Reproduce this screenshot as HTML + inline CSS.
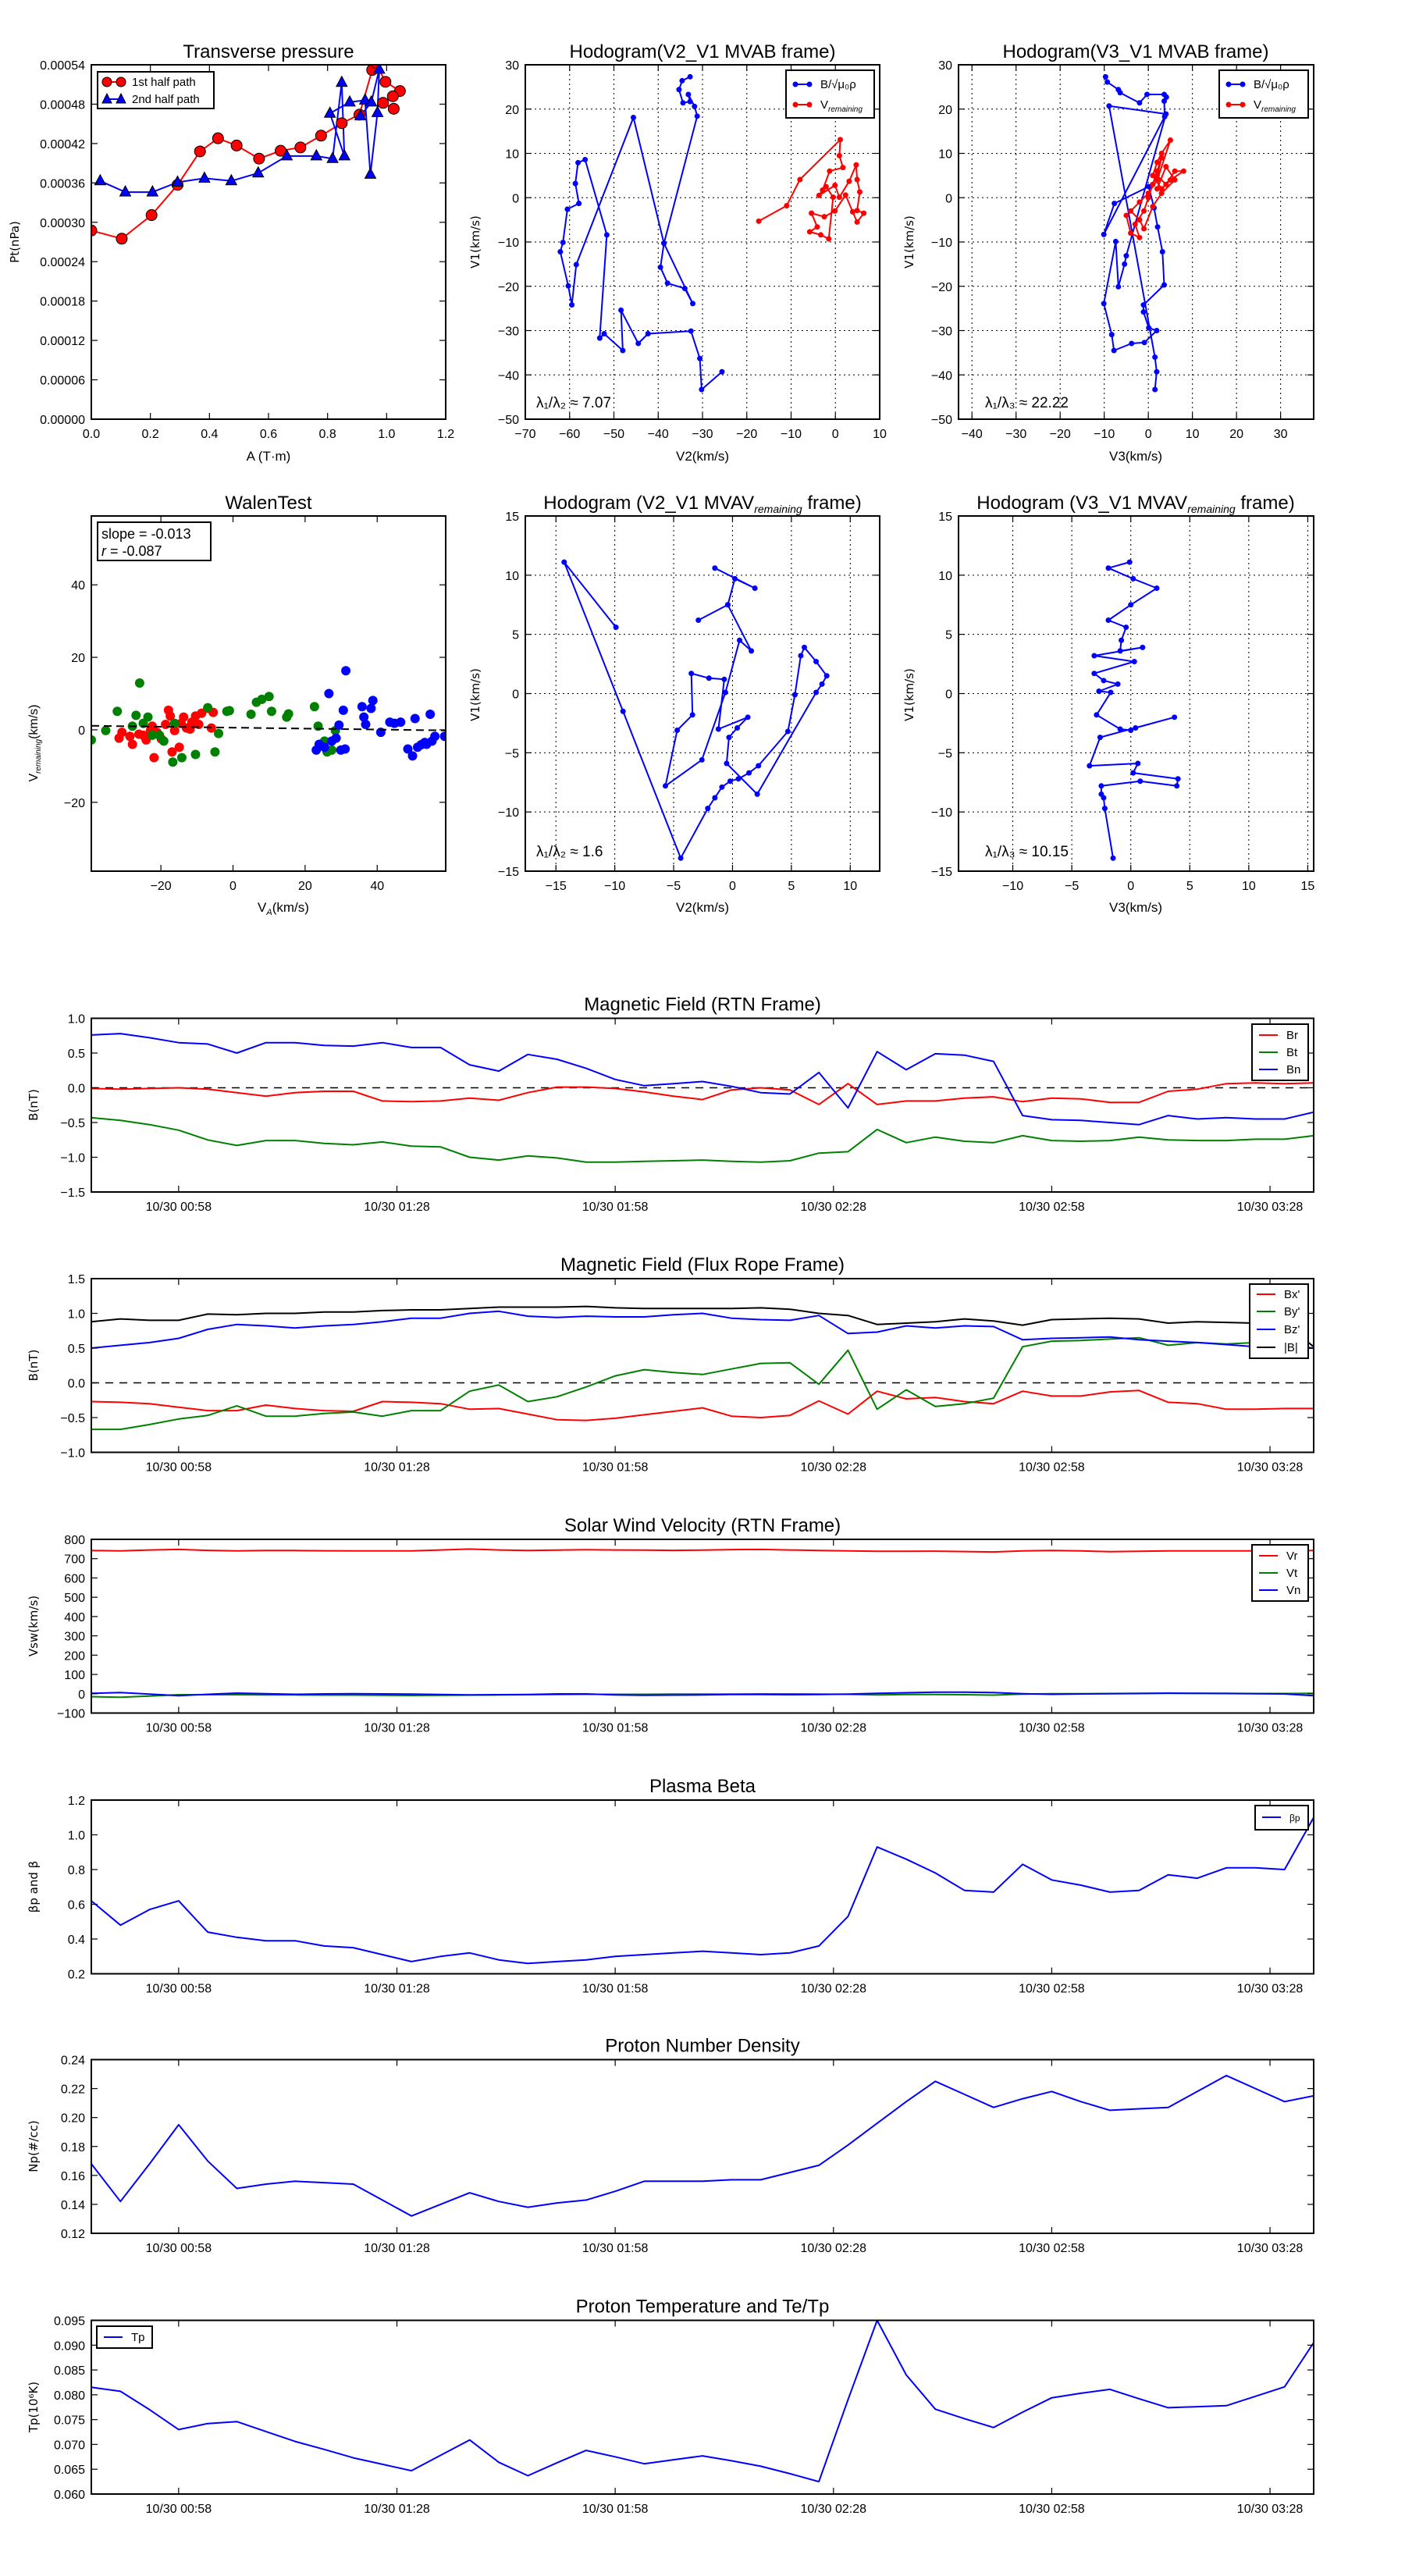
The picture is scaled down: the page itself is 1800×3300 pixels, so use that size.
<!DOCTYPE html>
<html><head><meta charset="utf-8"><style>
html,body{margin:0;padding:0;background:#fff;}
svg{display:block;font-family:"Liberation Sans",sans-serif;}
</style></head>
<body>
<svg id="fig" width="1800" height="3300" viewBox="0 0 1800 3300" xmlns="http://www.w3.org/2000/svg">
<rect x="0" y="0" width="1800" height="3300" fill="#fff"/>
<defs id="defs"></defs>
</svg>
<script>
// ---------- data ----------
const presA1=[0.0,0.103,0.204,0.292,0.368,0.429,0.492,0.568,0.641,0.708,0.778,0.848,0.908,0.951,0.963,0.996,1.045,1.021,0.988,1.024];
const presP1=[0.0002875,0.000275,0.000311,0.000357,0.000408,0.000428,0.000417,0.000397,0.000409,0.000414,0.000432,0.000451,0.000464,0.000532,0.000543,0.000514,0.0005,0.000492,0.000482,0.000473];
const presA2=[0.03,0.115,0.207,0.292,0.383,0.474,0.565,0.662,0.762,0.817,0.848,0.857,0.808,0.875,0.927,0.945,0.969,0.975,0.948,0.911];
const presP2=[0.000363,0.000346,0.000346,0.000361,0.000367,0.000363,0.000375,0.000401,0.000401,0.000397,0.000513,0.000401,0.000466,0.000483,0.000486,0.000373,0.000467,0.000533,0.000483,0.000462];

const h1bx=[-25.6,-30.2,-30.6,-32.6,-42.3,-44.5,-48.4,-48.0,-52.2,-53.2,-51.6,-56.5,-58.1,-58.7,-57.9,-60.5,-61.5,-62.1,-60.3,-59.5,-58.5,-45.6,-38.7,-39.5,-37.9,-34.0,-32.2,-38.7,-31.2,-31.8,-33.2,-32.8,-34.4,-35.3,-34.6,-32.8];
const h1by=[-39.3,-43.3,-36.3,-30.1,-30.7,-32.9,-25.4,-34.5,-30.7,-31.7,-8.4,8.6,7.9,3.2,-1.3,-2.6,-10.1,-12.2,-19.9,-24.2,-15.1,18.1,-10.3,-15.7,-19.3,-20.5,-23.9,-10.3,18.4,20.6,23.3,21.7,21.4,24.4,26.4,27.3];
const h1rx=[-17.3,-11.0,-8.0,1.1,0.9,1.7,-1.3,-2.9,-3.7,-0.1,0.9,3.1,4.7,4.9,5.5,4.9,6.4,4.9,3.9,2.3,-0.1,-2.5,-5.4,-4.1,-5.8,-3.3,-1.5,-0.5,-2.1];
const h1ry=[-5.3,-1.8,4.1,13.1,9.5,6.8,6.0,1.7,0.5,2.8,0.1,3.7,7.4,4.1,1.3,-2.9,-3.5,-5.5,-3.2,0.6,-3.0,-4.3,-3.5,-6.6,-7.7,-8.4,-9.3,0.1,2.5];

const h2bx=[-9.7,-9.3,-6.8,-6.4,-2.0,-0.3,3.6,4.1,3.6,3.7,-10.1,-7.7,0.1,1.3,2.1,3.2,3.6,-1.1,-1.1,0.1,1.9,-0.9,-3.8,-7.8,-8.3,-10.1,-7.4,-6.8,-5.4,-5.0,4.0,-8.9,1.5,1.9,1.5];
const h2by=[27.3,26.1,24.4,23.7,21.4,23.3,23.3,22.7,21.8,18.3,-8.3,-1.3,2.5,-2.3,-6.6,-12.2,-19.7,-24.2,-25.8,-29.4,-30.0,-32.7,-32.9,-34.5,-30.9,-23.9,-9.9,-20.1,-15.0,-13.1,18.9,20.7,-36.0,-39.3,-43.3];
const h2rx=[-5,-4,-2,-3,-1,0,1,2,3,2,4,6,8,5,3,1,2,3,5,2,0,-2,-4,-2,-1,1,3,6,4,2];
const h2ry=[-4,-8,-9,-6,-3,0,3,6,9,5,3,6,6,4,2,5,8,10,13,4,1,-1,-3,-5,-7,-2,1,4,7,2];

const walRx=[-30.8,-31.6,-28.6,-27.9,-26.1,-24.9,-24.1,-22.9,-22.4,-21.1,-21.9,-19.9,-18.7,-17.9,-17.4,-16.9,-16.2,-14.9,-14.4,-13.7,-12.9,-11.9,-11.4,-10.4,-9.5,-8.7,-7.0,-6.0,-5.5];
const walRy=[-0.7,-2.3,-1.8,-4.0,-1.2,-1.5,-2.8,-0.2,1.0,-0.7,-7.7,-2.5,1.5,5.4,3.8,-6.1,-0.2,-4.8,1.8,3.5,0.5,0.2,2.1,3.8,1.5,4.6,5.9,0.5,4.8];
const walGx=[-39.3,-35.3,-32.1,-27.9,-26.9,-25.9,-24.9,-23.6,-22.4,-19.2,-16.7,-14.2,-10.4,-7.0,-5.0,-4.0,-1.7,-1.0,5.0,6.5,8.0,10.0,10.7,14.9,15.4,22.6,23.6,25.4,26.1,27.4,28.4,-20.4,-16.2];
const walGy=[-2.8,-0.2,5.1,1.0,4.0,12.9,1.8,3.5,-1.5,-3.1,-8.9,-7.7,-6.8,6.1,-6.1,-1.0,5.1,5.3,4.3,7.6,8.4,9.2,5.1,3.5,4.4,6.4,1.0,-3.1,-6.1,-5.6,-0.2,-1.5,1.8];
const walBx=[23.1,23.9,25.4,26.6,27.4,28.6,29.9,30.6,31.1,31.3,29.4,35.8,36.3,36.8,38.3,38.8,41.0,43.5,44.8,46.5,48.5,49.8,50.5,51.2,52.2,53.2,54.7,55.2,56.0,53.7,58.7];
const walBy=[-5.6,-4.0,-4.8,10.0,-3.1,-2.3,-5.6,5.4,-5.3,16.3,1.3,6.4,3.5,1.5,5.9,8.1,-0.7,2.1,1.8,2.1,-5.3,-7.2,3.1,-4.8,-4.1,-3.5,4.3,-3.1,-1.8,-4.0,-1.8];
const walSlope=-0.013, walIntercept=0.6;

const h3x=[-9.9,-14.3,-9.3,-4.4,-2.1,-1.5,-0.9,-0.2,0.5,1.4,2.2,4.7,5.3,5.8,6.1,7.1,8.0,7.6,7.1,2.1,-0.5,-0.3,0.4,1.3,-1.2,-0.7,-2.0,-3.5,-3.4,-4.7,-5.7,-2.6,-0.6,0.6,1.6,-0.4,-2.9,-0.4,0.2,1.9,-1.5];
const h3y=[5.6,11.1,-1.5,-13.9,-9.7,-8.8,-7.9,-7.4,-7.2,-6.7,-6.1,-3.2,-0.1,3.2,3.9,2.7,1.5,0.8,0.1,-8.5,-5.9,-3.7,-2.9,-2.0,-3.0,1.2,1.3,1.7,-1.8,-3.1,-7.8,-5.6,0.1,4.5,3.6,7.5,6.2,7.5,9.7,8.9,10.6];
const h4x=[-1.5,-2.2,-2.3,-2.5,-2.5,0.8,3.9,4.0,0.2,0.6,-3.5,-2.6,3.7,0.4,0.0,-0.9,-2.9,-1.7,-2.7,-1.1,-2.3,-3.1,0.3,-3.1,1.0,-0.9,-0.8,-0.4,-1.9,0.0,2.2,0.2,-1.9,-0.1];
const h4y=[-13.9,-9.7,-8.8,-8.5,-7.8,-7.4,-7.8,-7.2,-6.7,-5.9,-6.1,-3.7,-2.0,-2.9,-3.1,-3.0,-1.8,0.1,0.2,0.8,1.1,1.7,2.7,3.2,3.9,3.6,4.5,5.6,6.2,7.5,8.9,9.7,10.6,11.1];

const tStart=46, tStep=4;
const timeTicks=[58,88,118,148,178,208];
const rtnBr=[-0.01,-0.02,-0.01,0.0,-0.02,-0.07,-0.12,-0.07,-0.05,-0.05,-0.19,-0.2,-0.19,-0.15,-0.18,-0.07,0.01,0.01,-0.01,-0.06,-0.12,-0.17,-0.03,0.0,-0.03,-0.24,0.06,-0.24,-0.19,-0.19,-0.15,-0.13,-0.2,-0.15,-0.16,-0.21,-0.21,-0.05,-0.02,0.06,0.07,0.06,0.07];
const rtnBt=[-0.43,-0.47,-0.53,-0.61,-0.75,-0.83,-0.76,-0.76,-0.8,-0.82,-0.78,-0.84,-0.85,-1.0,-1.04,-0.98,-1.01,-1.07,-1.07,-1.06,-1.05,-1.04,-1.06,-1.07,-1.05,-0.94,-0.92,-0.6,-0.79,-0.71,-0.77,-0.79,-0.69,-0.76,-0.77,-0.76,-0.71,-0.75,-0.76,-0.76,-0.74,-0.74,-0.69];
const rtnBn=[0.76,0.78,0.72,0.65,0.63,0.5,0.65,0.65,0.61,0.6,0.65,0.58,0.58,0.33,0.24,0.48,0.41,0.28,0.12,0.03,0.06,0.09,0.02,-0.07,-0.09,0.22,-0.29,0.52,0.26,0.49,0.47,0.38,-0.4,-0.46,-0.47,-0.5,-0.53,-0.4,-0.45,-0.43,-0.45,-0.45,-0.35];
const frBx=[-0.27,-0.28,-0.3,-0.35,-0.4,-0.4,-0.32,-0.37,-0.4,-0.41,-0.27,-0.28,-0.3,-0.38,-0.37,-0.45,-0.53,-0.54,-0.51,-0.46,-0.41,-0.36,-0.48,-0.5,-0.47,-0.26,-0.45,-0.12,-0.23,-0.21,-0.27,-0.3,-0.12,-0.19,-0.19,-0.13,-0.11,-0.28,-0.3,-0.38,-0.38,-0.37,-0.37];
const frBy=[-0.67,-0.67,-0.6,-0.52,-0.47,-0.33,-0.48,-0.48,-0.44,-0.42,-0.48,-0.4,-0.4,-0.12,-0.03,-0.27,-0.2,-0.06,0.1,0.19,0.15,0.12,0.2,0.28,0.29,-0.02,0.47,-0.38,-0.1,-0.34,-0.3,-0.22,0.52,0.6,0.61,0.63,0.65,0.54,0.58,0.56,0.58,0.56,0.5];
const frBz=[0.5,0.54,0.58,0.64,0.77,0.84,0.82,0.79,0.82,0.84,0.88,0.93,0.93,1.0,1.03,0.96,0.94,0.96,0.95,0.95,0.98,1.0,0.93,0.91,0.9,0.97,0.71,0.73,0.82,0.79,0.82,0.81,0.62,0.64,0.65,0.66,0.62,0.6,0.58,0.55,0.52,0.5,0.5];
const frBm=[0.88,0.92,0.9,0.9,0.99,0.98,1.0,1.0,1.02,1.02,1.04,1.05,1.05,1.07,1.09,1.09,1.09,1.1,1.08,1.07,1.07,1.07,1.07,1.08,1.06,1.0,0.97,0.84,0.86,0.88,0.92,0.89,0.83,0.91,0.92,0.93,0.92,0.86,0.88,0.87,0.86,0.85,0.52];
const vr=[742,740,745,748,743,740,742,742,741,740,740,740,745,750,745,742,744,746,745,744,743,744,747,748,745,742,740,738,738,739,737,735,740,742,740,736,738,740,740,740,740,740,742];
const vt=[-15,-18,-12,-5,-5,-5,-6,-6,-7,-7,-8,-9,-8,-7,-6,-5,-4,-3,-3,-3,-2,-2,-2,-1,-1,-2,-3,-6,-4,-4,-5,-7,-2,0,0,1,2,2,2,2,1,1,2];
const vn=[2,6,-2,-10,-3,3,0,-3,-1,0,-1,-2,-4,-6,-5,-4,-1,-1,-6,-8,-7,-6,-4,-4,-5,-4,-2,2,5,8,8,6,0,-3,-1,0,1,3,2,1,0,-1,-10];
const beta=[0.62,0.48,0.57,0.62,0.44,0.41,0.39,0.39,0.36,0.35,0.31,0.27,0.30,0.32,0.28,0.26,0.27,0.28,0.30,0.31,0.32,0.33,0.32,0.31,0.32,0.36,0.53,0.93,0.86,0.78,0.68,0.67,0.83,0.74,0.71,0.67,0.68,0.77,0.75,0.81,0.81,0.80,1.10];
const np=[0.168,0.142,0.168,0.195,0.170,0.151,0.154,0.156,0.155,0.154,0.143,0.132,0.140,0.148,0.142,0.138,0.141,0.143,0.149,0.156,0.156,0.156,0.157,0.157,0.162,0.167,0.181,0.196,0.211,0.225,0.216,0.207,0.213,0.218,0.211,0.205,0.206,0.207,0.218,0.229,0.220,0.211,0.215];
const tp=[0.0815,0.0807,0.077,0.073,0.0742,0.0746,0.0726,0.0706,0.069,0.0673,0.066,0.0647,0.0678,0.0709,0.0664,0.0637,0.0663,0.0688,0.0675,0.0661,0.0669,0.0677,0.0667,0.0656,0.0641,0.0625,0.079,0.095,0.084,0.0771,0.0752,0.0734,0.0765,0.0794,0.0803,0.0811,0.0792,0.0774,0.0776,0.0778,0.0797,0.0816,0.0905];

// ---------- helpers ----------
const NS='http://www.w3.org/2000/svg';
const svg=document.getElementById('fig');
const defs=document.getElementById('defs');
let clipN=0;
function mk(tag,attrs,parent,name){
  const el=document.createElementNS(NS,tag);
  for(const k in attrs) el.setAttribute(k,attrs[k]);
  
  
  (parent||svg).appendChild(el);
  return el;
}
function txt(s,x,y,o,name,parent){
  const t=mk('text',Object.assign({x:x,y:y,'font-size':16,fill:'#000'},o||{}),parent,name);
  t.textContent=s; return t;
}
function sub(t,s,size,dy,italic){
  const e=document.createElementNS(NS,'tspan');
  e.setAttribute('font-size',size);
  if(italic) e.setAttribute('font-style','italic');
  e.setAttribute('dy',dy);
  e.textContent=s; t.appendChild(e); return e;
}
function fmtNum(v,d){const s=Math.abs(v).toFixed(d);return (v<-1e-12?'\u2212':'')+s;}
function axes(c){
  const sx=v=>c.L+(v-c.xmin)/(c.xmax-c.xmin)*(c.R-c.L);
  const sy=v=>c.B-(v-c.ymin)/(c.ymax-c.ymin)*(c.B-c.T);
  const id='clip'+(++clipN);
  const cp=mk('clipPath',{id:id},defs,'clip-path');
  mk('rect',{x:c.L,y:c.T,width:c.R-c.L,height:c.B-c.T},cp,'clip-rect');
  const grp=mk('g',{},null,c.name);
  if(c.grid){
    c.xt.forEach(v=>mk('line',{x1:sx(v),x2:sx(v),y1:c.T,y2:c.B,stroke:'#000','stroke-width':1,'stroke-dasharray':'2,4'},grp,'grid-line-x'));
    c.yt.forEach(v=>mk('line',{x1:c.L,x2:c.R,y1:sy(v),y2:sy(v),stroke:'#000','stroke-width':1,'stroke-dasharray':'2,4'},grp,'grid-line-y'));
  }
  const g=mk('g',{'clip-path':'url(#'+id+')'},grp,c.name+'-plot-area');
  c.xt.forEach(v=>{
    const x=sx(v);
    mk('line',{x1:x,x2:x,y1:c.B,y2:c.B-8,stroke:'#000','stroke-width':1.2},grp,'x-tick');
    mk('line',{x1:x,x2:x,y1:c.T,y2:c.T+8,stroke:'#000','stroke-width':1.2},grp,'x-tick');
    txt(c.xfmt(v),x,c.B+24,{'text-anchor':'middle'},'x-tick-label',grp);
  });
  c.yt.forEach(v=>{
    const y=sy(v);
    mk('line',{x1:c.L,x2:c.L+8,y1:y,y2:y,stroke:'#000','stroke-width':1.2},grp,'y-tick');
    mk('line',{x1:c.R,x2:c.R-8,y1:y,y2:y,stroke:'#000','stroke-width':1.2},grp,'y-tick');
    txt(c.yfmt(v),c.L-8,y+6,{'text-anchor':'end'},'y-tick-label',grp);
  });
  return {sx,sy,g,grp,frame:()=>mk('rect',{x:c.L,y:c.T,width:c.R-c.L,height:c.B-c.T,fill:'none',stroke:'#000','stroke-width':2},grp,'axes-frame')};
}
function range(a,b,s){const r=[];for(let v=a;v<=b+s*1e-6;v+=s)r.push(Math.round(v/s)*s);return r;}
function poly(a,xs,ys,color,name,w){
  const pts=xs.map((x,i)=>a.sx(x).toFixed(1)+','+a.sy(ys[i]).toFixed(1)).join(' ');
  return mk('polyline',{points:pts,fill:'none',stroke:color,'stroke-width':w||2,'stroke-linejoin':'round'},a.g,name);
}
function dots(a,xs,ys,color,r,name,edge){
  xs.forEach((x,i)=>{
    mk('circle',{cx:a.sx(x),cy:a.sy(ys[i]),r:r,fill:color,stroke:edge||'none','stroke-width':1},a.g,name);
  });
}
function tris(a,xs,ys,color,name){
  xs.forEach((x,i)=>{
    const X=a.sx(x),Y=a.sy(ys[i]);
    mk('polygon',{points:`${X},${Y-8} ${X-7},${Y+5} ${X+7},${Y+5}`,fill:color,stroke:'#000','stroke-width':1},a.g,name);
  });
}
function ylabel(s,x,y,name,size){
  return txt(s,x,y,{'text-anchor':'middle','font-family':'DejaVu Sans, sans-serif','font-size':size||15,transform:`rotate(-90 ${x} ${y})`},name);
}
function title(s,x,y,name){return txt(s,x,y,{'text-anchor':'middle','font-size':24},name);}
function legendBox(x,y,w,h,entries,name){
  const g=mk('g',{},null,name);
  mk('rect',{x:x,y:y,width:w,height:h,fill:'#fff',stroke:'#000','stroke-width':2},g,'legend-frame');
  entries.forEach((e)=>{
    const yy=y+e.dy;
    mk('line',{x1:x+9,x2:x+33,y1:yy,y2:yy,stroke:e.c,'stroke-width':2},g,'legend-line');
    if(e.m==='o'){mk('circle',{cx:x+12,cy:yy,r:e.r||6,fill:e.c,stroke:e.edge||'none'},g,'legend-marker');mk('circle',{cx:x+30,cy:yy,r:e.r||6,fill:e.c,stroke:e.edge||'none'},g,'legend-marker');}
    if(e.m==='^'){[x+12,x+30].forEach(X=>mk('polygon',{points:`${X},${yy-7} ${X-6},${yy+5} ${X+6},${yy+5}`,fill:e.c,stroke:'#000'},g,'legend-marker'));}
    const t=txt(e.t,x+44,yy+5,{'font-size':e.fs||15},'legend-label',g);
    if(e.sub) sub(t,e.sub,10,4,true);
  });
  return g;
}

// ---------- Row 1 ----------
(function(){
  const a=axes({name:'transverse-pressure-axes',L:117,R:571,T:83,B:537,xmin:0,xmax:1.2,ymin:0,ymax:0.00054,
    xt:range(0,1.2,0.2),yt:range(0,0.00054,0.00006),xfmt:v=>v.toFixed(1),yfmt:v=>v.toFixed(5)});
  poly(a,presA1,presP1,'#f00','first-half-line');
  poly(a,presA2,presP2,'#00f','second-half-line');
  dots(a,presA1,presP1,'#f00',7,'first-half-marker','#000');
  tris(a,presA2,presP2,'#00f','second-half-marker');
  a.frame();
  title('Transverse pressure',344,74,'transverse-pressure-title');
  txt('A (T\u00b7m)',344,590,{'text-anchor':'middle','font-size':17},'x-axis-title');
  ylabel('Pt(nPa)',24,310,'y-axis-title');
  legendBox(125,92,149,47,[{t:'1st half path',c:'#f00',m:'o',dy:13,r:6,edge:'#000'},{t:'2nd half path',c:'#00f',m:'^',dy:35}],'pressure-legend');
})();
(function(){
  const a=axes({name:'hodogram-v2v1-mvab-axes',L:673,R:1127,T:83,B:537,xmin:-70,xmax:10,ymin:-50,ymax:30,grid:true,
    xt:range(-70,10,10),yt:range(-50,30,10),xfmt:v=>fmtNum(v,0),yfmt:v=>fmtNum(v,0)});
  poly(a,h1bx,h1by,'#00f','b-alfven-path');
  dots(a,h1bx,h1by,'#00f',3.5,'b-alfven-point');
  poly(a,h1rx,h1ry,'#f00','v-remaining-path');
  dots(a,h1rx,h1ry,'#f00',3.5,'v-remaining-point');
  a.frame();
  title('Hodogram(V2_V1 MVAB frame)',900,74,'hodogram-v2v1-mvab-title');
  txt('V2(km/s)',900,590,{'text-anchor':'middle','font-size':17},'x-axis-title');
  ylabel('V1(km/s)',614,310,'y-axis-title');
  txt('\u03bb\u2081/\u03bb\u2082 \u2248 7.07',687,522,{'font-size':19},'eigenvalue-ratio-label');
  legendBox(1007,90,113,61,[{t:'B/\u221a\u03bc\u2080\u03c1',c:'#00f',m:'o',r:3.5,dy:18},{t:'V',sub:'remaining',c:'#f00',m:'o',r:3.5,dy:44}],'hodogram-v2v1-legend');
})();
(function(){
  const a=axes({name:'hodogram-v3v1-mvab-axes',L:1228,R:1683,T:83,B:537,xmin:-43.05,xmax:37.5,ymin:-50,ymax:30,grid:true,
    xt:range(-40,30,10),yt:range(-50,30,10),xfmt:v=>fmtNum(v,0),yfmt:v=>fmtNum(v,0)});
  poly(a,h2bx,h2by,'#00f','b-alfven-path');
  dots(a,h2bx,h2by,'#00f',3.5,'b-alfven-point');
  poly(a,h2rx,h2ry,'#f00','v-remaining-path');
  dots(a,h2rx,h2ry,'#f00',3.5,'v-remaining-point');
  a.frame();
  title('Hodogram(V3_V1 MVAB frame)',1455,74,'hodogram-v3v1-mvab-title');
  txt('V3(km/s)',1455,590,{'text-anchor':'middle','font-size':17},'x-axis-title');
  ylabel('V1(km/s)',1170,310,'y-axis-title');
  txt('\u03bb\u2081/\u03bb\u2083 \u2248 22.22',1262,522,{'font-size':19},'eigenvalue-ratio-label');
  legendBox(1562,90,114,61,[{t:'B/\u221a\u03bc\u2080\u03c1',c:'#00f',m:'o',r:3.5,dy:18},{t:'V',sub:'remaining',c:'#f00',m:'o',r:3.5,dy:44}],'hodogram-v3v1-legend');
})();

// ---------- Row 2 ----------
(function(){
  const a=axes({name:'walen-test-axes',L:117,R:571,T:661,B:1116,xmin:-39.3,xmax:59,ymin:-39,ymax:59,
    xt:[-20,0,20,40],yt:[-20,0,20,40],xfmt:v=>fmtNum(v,0),yfmt:v=>fmtNum(v,0)});
  dots(a,walRx,walRy,'#f00',6,'first-half-point');
  dots(a,walGx,walGy,'#008000',6,'middle-point');
  dots(a,walBx,walBy,'#00f',6,'second-half-point');
  mk('line',{x1:a.sx(-39.3),y1:a.sy(walIntercept+walSlope*-39.3),x2:a.sx(59),y2:a.sy(walIntercept+walSlope*59),stroke:'#000','stroke-width':2,'stroke-dasharray':'10,6'},a.g,'fit-line');
  a.frame();
  title('WalenTest',344,652,'walen-test-title');
  const xl=txt('V',330,1168,{'font-size':17},'x-axis-title');
  sub(xl,'A',11,4,true); sub(xl,'(km/s)',17,-4,false);
  const yl=txt('V',48,1000,{'font-size':16,'text-anchor':'middle',transform:'rotate(-90 48 1000)'},'y-axis-title');
  sub(yl,'remaining',10,4,true); sub(yl,'(km/s)',16,-4,false);
  yl.setAttribute('x','96');
  const g=mk('g',{},null,'walen-stats-box');
  mk('rect',{x:125,y:669,width:145,height:49,fill:'#fff',stroke:'#000','stroke-width':2},g,'stats-frame');
  txt('slope = -0.013',130,690,{'font-size':18},'slope-label',g);
  const rt=txt('r',130,712,{'font-size':18,'font-style':'italic'},'correlation-label',g);
  sub(rt,' = -0.087',18,0,false).setAttribute('font-style','normal');
})();
(function(){
  const a=axes({name:'hodogram-v2v1-mvav-axes',L:673,R:1127,T:661,B:1116,xmin:-17.6,xmax:12.5,ymin:-15,ymax:15,grid:true,
    xt:range(-15,10,5),yt:range(-15,15,5),xfmt:v=>fmtNum(v,0),yfmt:v=>fmtNum(v,0)});
  poly(a,h3x,h3y,'#00f','velocity-path');
  dots(a,h3x,h3y,'#00f',3.5,'velocity-point');
  a.frame();
  const t=title('Hodogram (V2_V1 MVAV',900,652,'hodogram-v2v1-mvav-title');
  sub(t,'remaining',14,5,true); sub(t,' frame)',24,-5,false);
  txt('V2(km/s)',900,1168,{'text-anchor':'middle','font-size':17},'x-axis-title');
  ylabel('V1(km/s)',614,890,'y-axis-title');
  txt('\u03bb\u2081/\u03bb\u2082 \u2248 1.6',687,1097,{'font-size':19},'eigenvalue-ratio-label');
})();
(function(){
  const a=axes({name:'hodogram-v3v1-mvav-axes',L:1228,R:1683,T:661,B:1116,xmin:-14.6,xmax:15.5,ymin:-15,ymax:15,grid:true,
    xt:range(-10,15,5),yt:range(-15,15,5),xfmt:v=>fmtNum(v,0),yfmt:v=>fmtNum(v,0)});
  poly(a,h4x,h4y,'#00f','velocity-path');
  dots(a,h4x,h4y,'#00f',3.5,'velocity-point');
  a.frame();
  const t=title('Hodogram (V3_V1 MVAV',1455,652,'hodogram-v3v1-mvav-title');
  sub(t,'remaining',14,5,true); sub(t,' frame)',24,-5,false);
  txt('V3(km/s)',1455,1168,{'text-anchor':'middle','font-size':17},'x-axis-title');
  ylabel('V1(km/s)',1170,890,'y-axis-title');
  txt('\u03bb\u2081/\u03bb\u2083 \u2248 10.15',1262,1097,{'font-size':19},'eigenvalue-ratio-label');
})();

// ---------- time series ----------
const times=rtnBr.map((_,i)=>tStart+i*tStep);
function tfmt(m){const h=Math.floor(m/60),mm=m%60;return '10/30 '+String(h).padStart(2,'0')+':'+String(mm).padStart(2,'0');}
function tsPanel(o){
  const a=axes({name:o.name,L:117,R:1683,T:o.T,B:o.T+222.5,xmin:46,xmax:214,ymin:o.ymin,ymax:o.ymax,
    xt:timeTicks,yt:o.yt,xfmt:tfmt,yfmt:o.yfmt});
  if(o.zero) mk('line',{x1:117,x2:1683,y1:a.sy(0),y2:a.sy(0),stroke:'#000','stroke-width':1.5,'stroke-dasharray':'10,8'},a.g,'zero-line');
  o.series.forEach(s=>poly(a,times.slice(0,s.v.length),s.v,s.c,s.n));
  a.frame();
  title(o.title,900,o.T-10,o.name.replace('-axes','-title'));
  if(o.ylab) ylabel(o.ylab,48,o.T+111,'y-axis-title',15);
  return a;
}
tsPanel({name:'rtn-field-axes',T:1304.5,ymin:-1.5,ymax:1.0,yt:range(-1.5,1.0,0.5),yfmt:v=>fmtNum(v,1),zero:true,title:'Magnetic Field (RTN Frame)',ylab:'B(nT)',
  series:[{v:rtnBr,c:'#f00',n:'br-line'},{v:rtnBt,c:'#008000',n:'bt-line'},{v:rtnBn,c:'#00f',n:'bn-line'}]});
legendBox(1604,1312,72,72,[{t:'Br',c:'#f00',dy:14},{t:'Bt',c:'#008000',dy:36},{t:'Bn',c:'#00f',dy:58}],'rtn-legend');
tsPanel({name:'flux-rope-field-axes',T:1638,ymin:-1.0,ymax:1.5,yt:range(-1.0,1.5,0.5),yfmt:v=>fmtNum(v,1),zero:true,title:'Magnetic Field (Flux Rope Frame)',ylab:'B(nT)',
  series:[{v:frBx,c:'#f00',n:'bx-line'},{v:frBy,c:'#008000',n:'by-line'},{v:frBz,c:'#00f',n:'bz-line'},{v:frBm,c:'#000',n:'b-magnitude-line'}]});
legendBox(1601,1645,75,95,[{t:"Bx'",c:'#f00',dy:13},{t:"By'",c:'#008000',dy:35},{t:"Bz'",c:'#00f',dy:58},{t:'|B|',c:'#000',dy:81}],'flux-rope-legend');
tsPanel({name:'solar-wind-velocity-axes',T:1972,ymin:-100,ymax:800,yt:range(-100,800,100),yfmt:v=>fmtNum(v,0),title:'Solar Wind Velocity (RTN Frame)',ylab:'Vsw(km/s)',
  series:[{v:vr,c:'#f00',n:'vr-line'},{v:vt,c:'#008000',n:'vt-line'},{v:vn,c:'#00f',n:'vn-line'}]});
legendBox(1604,1979,72,72,[{t:'Vr',c:'#f00',dy:14},{t:'Vt',c:'#008000',dy:36},{t:'Vn',c:'#00f',dy:58}],'velocity-legend');
tsPanel({name:'plasma-beta-axes',T:2306,ymin:0.2,ymax:1.2,yt:range(0.2,1.2,0.2),yfmt:v=>v.toFixed(1),title:'Plasma Beta',ylab:'\u03b2p and \u03b2',
  series:[{v:beta,c:'#00f',n:'beta-line'}]});
legendBox(1608,2313,68,31,[{t:'\u03b2p',c:'#00f',dy:15,fs:12}],'beta-legend');
tsPanel({name:'proton-density-axes',T:2638.5,ymin:0.12,ymax:0.24,yt:range(0.12,0.24,0.02),yfmt:v=>v.toFixed(2),title:'Proton Number Density',ylab:'Np(#/cc)',
  series:[{v:np,c:'#00f',n:'np-line'}]});
tsPanel({name:'proton-temperature-axes',T:2972.5,ymin:0.060,ymax:0.095,yt:range(0.060,0.095,0.005),yfmt:v=>v.toFixed(3),title:'Proton Temperature and Te/Tp',ylab:'Tp(10\u2076K)',
  series:[{v:tp,c:'#00f',n:'tp-line'}]});
legendBox(124,2980,71,28,[{t:'Tp',c:'#00f',dy:14}],'tp-legend');
</script>
</body></html>
